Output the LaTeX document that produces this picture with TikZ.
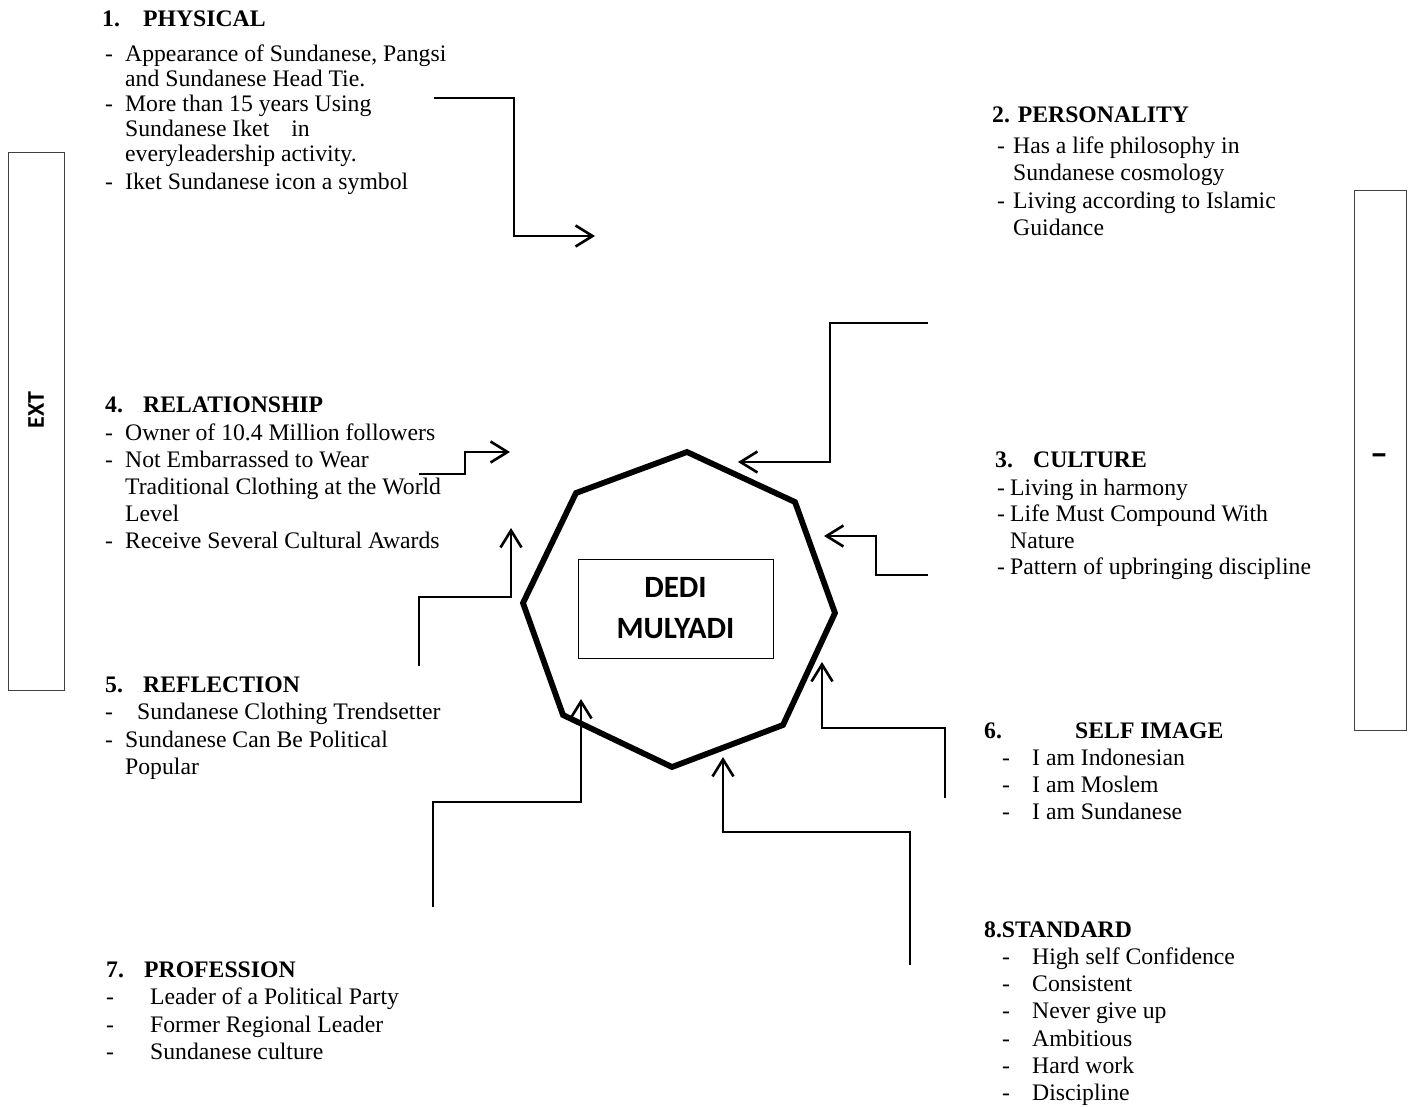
\documentclass[tikz,border=0pt]{standalone}
\usepackage{fontspec}
\setmainfont{Liberation Serif}
\newfontfamily\boxfont{Carlito}
\usetikzlibrary{arrows.meta}
\newcommand\li[3]{\hspace*{#1pt}\makebox[#2pt][l]{-}#3}
\newcommand\lc[1]{\hspace*{#1pt}}
\tikzset{aspect/.style={anchor=base west,inner sep=0pt,font=\fontsize{23.7}{27.5}\selectfont},
         link/.style={-{Straight Barb[length=17pt,width=21pt]},line width=2.6pt},
         sidebar/.style={draw=black!75,line width=1pt,inner sep=0pt},
         boxtext/.style={inner sep=0pt,font=\boxfont\bfseries\fontsize{24}{24}\selectfont}}

\begin{document}
\begin{tikzpicture}[x=1pt,y=-1pt]
\useasboundingbox (0,0) rectangle (1411,1106);
\node[sidebar,minimum width=56pt,minimum height=538pt] (ext) at (36,421) {};
\node[boxtext,rotate=90] (extlabel) at (36,410) {EXT};
\node[sidebar,minimum width=52pt,minimum height=540pt] (int) at (1380,460) {};
\node[boxtext,font=\boxfont\bfseries\fontsize{36}{36}\selectfont] (intlabel) at (1379,460) {\textendash};
\draw[line width=5.8pt,line join=miter] (687,452) -- (795,502) -- (835,613) -- (783,725) -- (672,767) -- (563,715) -- (523,603) -- (576,493) -- cycle;
\node[draw,line width=0.9pt,minimum width=195pt,minimum height=99pt,inner sep=0pt,align=center,font=\boxfont\bfseries\fontsize{31}{41}\selectfont] (dedi) at (675.5,608.5) {DEDI\\MULYADI};
\node[aspect,font=\fontsize{23.7}{25}\selectfont] (physical) at (102,26) {\begin{tabular}[t]{@{}l@{}}
  \textbf{\makebox[41pt][l]{1.}PHYSICAL}\\[10pt]
  \li{3}{20}{Appearance of Sundanese, Pangsi}\\
  \lc{23}and Sundanese Head Tie.\\
  \li{3}{20}{More than 15 years Using}\\
  \lc{23}Sundanese Iket\hspace{16pt} in\\
  \lc{23}everyleadership activity.\\[3pt]
  \li{3}{20}{Iket Sundanese icon a symbol}
  \end{tabular}};
\node[aspect] (personality) at (992,122) {\begin{tabular}[t]{@{}l@{}}
  \textbf{2. PERSONALITY}\\[3.5pt]
  \li{5}{16}{Has a life philosophy in}\\
  \lc{21}Sundanese cosmology\\
  \li{5}{16}{Living according to Islamic}\\
  \lc{21}Guidance
  \end{tabular}};
\node[aspect,font=\fontsize{23.7}{26.5}\selectfont] (culture) at (995,467) {\begin{tabular}[t]{@{}l@{}}
  \textbf{\makebox[38pt][l]{3.}CULTURE}\\[1.5pt]
  \li{2}{13}{Living in harmony}\\
  \li{2}{13}{Life Must Compound With}\\
  \lc{15}Nature\\
  \li{2}{13}{Pattern of upbringing discipline}
  \end{tabular}};
\node[aspect,font=\fontsize{23.7}{27}\selectfont] (relationship) at (105,412) {\begin{tabular}[t]{@{}l@{}}
  \textbf{\makebox[38pt][l]{4.}RELATIONSHIP}\\[1pt]
  \li{0}{20}{Owner of 10.4 Million followers}\\
  \li{0}{20}{Not Embarrassed to Wear}\\
  \lc{20}Traditional Clothing at the World\\
  \lc{20}Level\\
  \li{0}{20}{Receive Several Cultural Awards}
  \end{tabular}};
\node[aspect] (reflection) at (105,692) {\begin{tabular}[t]{@{}l@{}}
  \textbf{\makebox[38pt][l]{5.}REFLECTION}\\
  \li{0}{32}{Sundanese Clothing Trendsetter}\\
  \li{0}{20}{Sundanese Can Be Political}\\
  \lc{20}Popular
  \end{tabular}};
\node[aspect,font=\fontsize{23.7}{27}\selectfont] (selfimage) at (984,738) {\begin{tabular}[t]{@{}l@{}}
  \textbf{\makebox[91pt][l]{6.}SELF IMAGE}\\
  \li{18}{30}{I am Indonesian}\\
  \li{18}{30}{I am Moslem}\\
  \li{18}{30}{I am Sundanese}
  \end{tabular}};
\node[aspect] (profession) at (106,977) {\begin{tabular}[t]{@{}l@{}}
  \textbf{\makebox[38pt][l]{7.}PROFESSION}\\
  \li{0}{44}{Leader of a Political Party}\\
  \li{0}{44}{Former Regional Leader}\\
  \li{0}{44}{Sundanese culture}
  \end{tabular}};
\node[aspect,font=\fontsize{23.7}{27.3}\selectfont] (standard) at (984,937) {\begin{tabular}[t]{@{}l@{}}
  \textbf{8.STANDARD}\\
  \li{18}{30}{High self Confidence}\\
  \li{18}{30}{Consistent}\\
  \li{18}{30}{Never give up}\\
  \li{18}{30}{Ambitious}\\
  \li{18}{30}{Hard work}\\
  \li{18}{30}{Discipline}
  \end{tabular}};
\coordinate (phy-a) at (434,98);
\coordinate (phy-b) at (595,236);
\coordinate (per-a) at (928,323);
\coordinate (per-b) at (738,462);
\coordinate (cul-a) at (928,575);
\coordinate (cul-b) at (824,536);
\coordinate (rel-a) at (419,474);
\coordinate (rel-b) at (510,452);
\coordinate (ref-a) at (419,666);
\coordinate (ref-b) at (511,528);
\coordinate (img-a) at (945,798);
\coordinate (img-b) at (822,662);
\coordinate (pro-a) at (433,907);
\coordinate (pro-b) at (581,699);
\coordinate (std-a) at (910,965);
\coordinate (std-b) at (723,757);
\draw[link] (phy-a) -- ++(80,0) |- (phy-b);
\draw[link] (per-a) -- ++(-98,0) |- (per-b);
\draw[link] (cul-a) -- ++(-52,0) |- (cul-b);
\draw[link] (rel-a) -- ++(46,0) |- (rel-b);
\draw[link] (ref-a) -- ++(0,-69) -| (ref-b);
\draw[link] (img-a) -- ++(0,-70) -| (img-b);
\draw[link] (pro-a) -- ++(0,-105) -| (pro-b);
\draw[link] (std-a) -- ++(0,-133) -| (std-b);
\end{tikzpicture}
\end{document}
